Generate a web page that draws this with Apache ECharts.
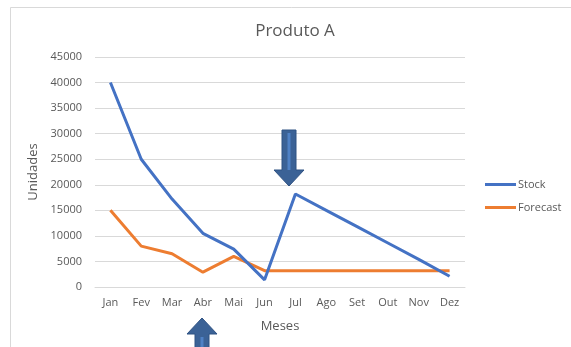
<!DOCTYPE html>
<html>
<head>
<meta charset="utf-8">
<script src="https://cdn.jsdelivr.net/npm/echarts@6/dist/echarts.min.js"></script>
<style>
html,body{margin:0;padding:0;background:#fff;}
#chart{width:571px;height:347px;}
</style>
</head>
<body>
<div id="chart"></div>
<script>
// Monthly stock vs. forecast for product A
const months = ['Jan','Fev','Mar','Abr','Mai','Jun','Jul','Ago','Set','Out','Nov','Dez'];
const stock = [40000, 25000, 17200, 10500, 7400, 1400, 18200, 15000, 11800, 8600, 5400, 2100];
const forecast = [15000, 8000, 6500, 2900, 6000, 3200, 3200, 3200, 3200, 3200, 3200, 3200];
const yTicks = { min: 0, max: 45000, interval: 5000 };

const chart = echarts.init(document.getElementById('chart'), null, { renderer: 'canvas' });
const txt = '#595959';
const font = '"Segoe UI", "Open Sans", "Noto Sans", sans-serif';

// Thick block arrow pointing down (dir=1) or up (dir=-1)
function blockArrow(cx, tipY, dir, len) {
  const shaftHalf = 7, headHalf = 15, headLen = 16;
  const baseY = tipY - dir * len;
  const neckY = tipY - dir * headLen;
  return [
    {
      type: 'polygon',
      shape: { points: [
        [cx - shaftHalf, baseY], [cx + shaftHalf, baseY],
        [cx + shaftHalf, neckY], [cx + headHalf, neckY],
        [cx, tipY], [cx - headHalf, neckY], [cx - shaftHalf, neckY]
      ]},
      style: { fill: '#3B6296', stroke: '#2F5283', lineWidth: 1 },
      z: 10
    },
    {
      type: 'rect',
      shape: { x: cx - 1.5, y: Math.min(baseY, neckY) + 3, width: 3, height: Math.abs(neckY - baseY) - 3 },
      style: { fill: '#4F81C5' },
      z: 11
    }
  ];
}

chart.setOption({
  backgroundColor: '#fff',
  animation: false,
  title: {
    text: 'Produto A',
    left: 290, top: 18,
    textAlign: 'center',
    textStyle: { color: txt, fontSize: 17, fontWeight: 'normal', fontFamily: font }
  },
  legend: {
    orient: 'vertical',
    left: 480, top: 174,
    itemWidth: 31, itemHeight: 3,
    itemGap: 12,
    icon: 'rect',
    textStyle: { color: txt, fontSize: 11, fontFamily: font, padding: [0, 0, 0, -3] },
    data: ['Stock', 'Forecast']
  },
  grid: { left: 95, right: 106, top: 57, bottom: 60, containLabel: false },
  xAxis: {
    type: 'category',
    data: months,
    boundaryGap: true,
    name: 'Meses',
    nameLocation: 'middle',
    nameGap: 33,
    nameTextStyle: { color: txt, fontSize: 13, fontFamily: font },
    axisLine: { lineStyle: { color: '#d9d9d9' } },
    axisTick: { show: false },
    axisLabel: { color: txt, fontSize: 11, fontFamily: font, margin: 10 }
  },
  yAxis: {
    type: 'value',
    min: yTicks.min, max: yTicks.max, interval: yTicks.interval,
    name: 'Unidades',
    nameLocation: 'middle',
    nameGap: 55,
    nameRotate: 90,
    nameTextStyle: { color: txt, fontSize: 13, fontFamily: font },
    axisLine: { show: false },
    axisTick: { show: false },
    axisLabel: { color: txt, fontSize: 11, fontFamily: font, margin: 13, formatter: v => String(v) },
    splitLine: { lineStyle: { color: '#d9d9d9', width: 1 } }
  },
  series: [
    {
      name: 'Stock', type: 'line', data: stock,
      symbol: 'none', lineStyle: { color: '#4472C4', width: 3 },
      itemStyle: { color: '#4472C4' }, z: 3
    },
    {
      name: 'Forecast', type: 'line', data: forecast,
      symbol: 'none', lineStyle: { color: '#ED7D31', width: 3 },
      itemStyle: { color: '#ED7D31' }, z: 2
    }
  ],
  graphic: [
    {
      type: 'rect',
      shape: { x: 10.5, y: 7.5, width: 580, height: 360 },
      style: { fill: null, stroke: '#d9d9d9', lineWidth: 1 },
      z: 0, silent: true
    },
    ...blockArrow(289, 186, 1, 56),
    ...blockArrow(202, 318, -1, 32)
  ]
});
</script>
</body>
</html>
